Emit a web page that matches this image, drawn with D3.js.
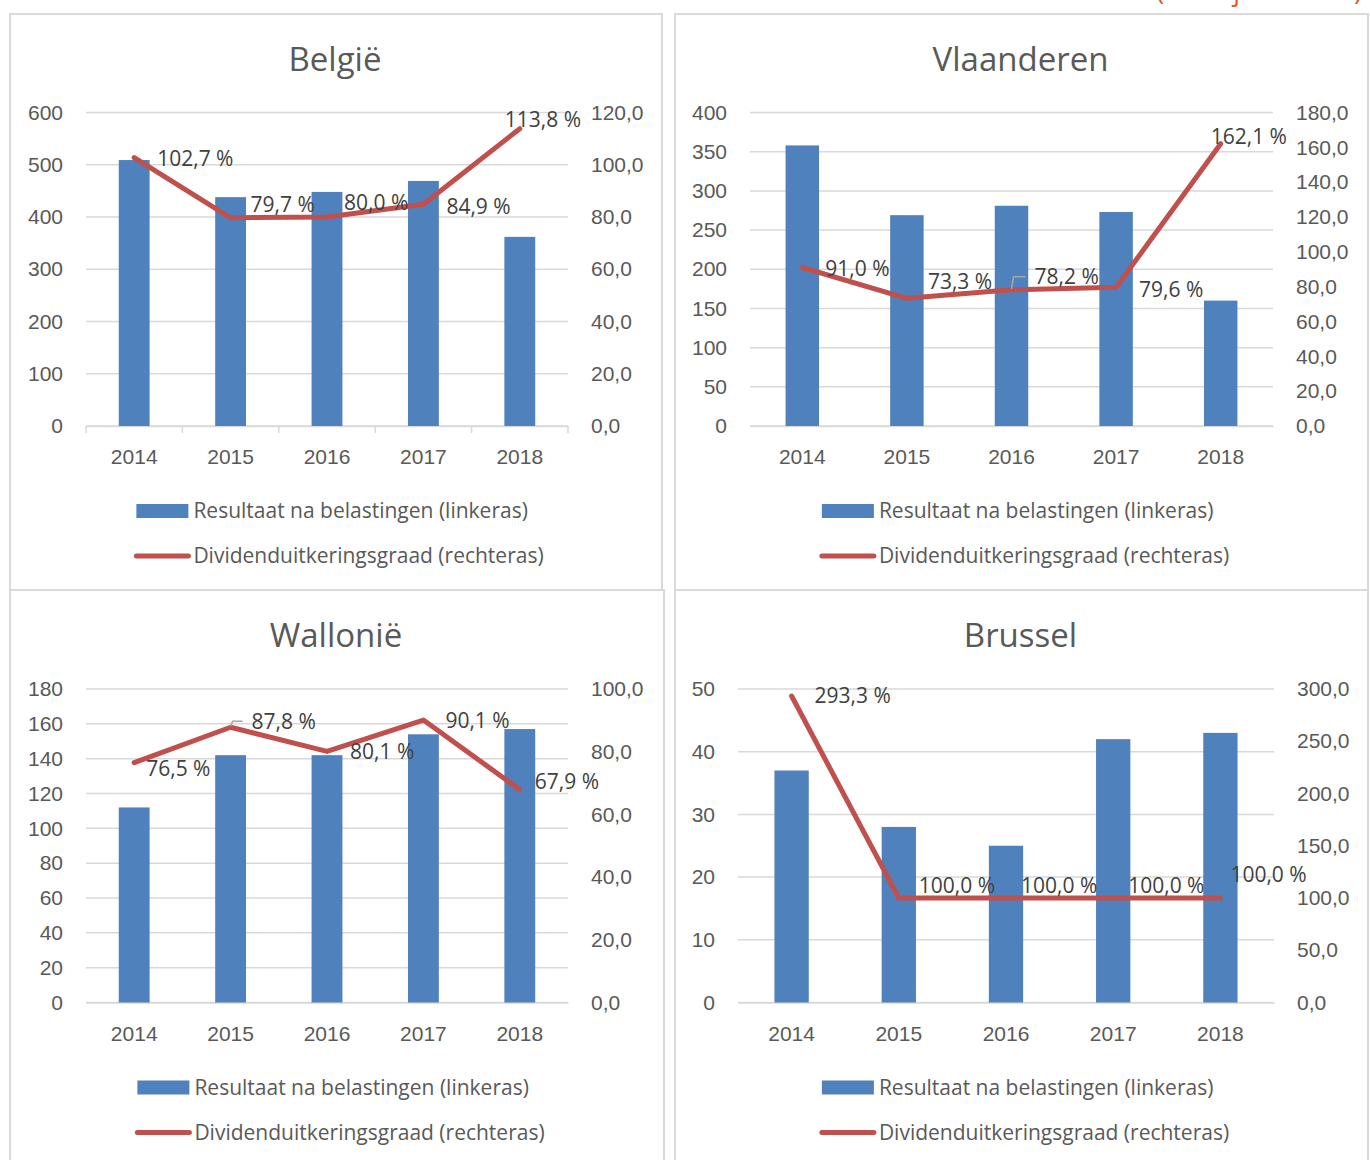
<!DOCTYPE html>
<html>
<head>
<meta charset="utf-8">
<script src="https://cdn.jsdelivr.net/npm/d3@7"></script>
<style>
  body { margin: 0; background: #fff; }
  svg { display: block; font-family: "Open Sans", sans-serif; }
</style>
</head>
<body>
<svg id="chart"></svg>
<script>
const size = {w: 1370, h: 1160};
const svg = d3.select('#chart').attr('width', size.w).attr('height', size.h);

// data
const years = ['2014', '2015', '2016', '2017', '2018'];
const belgieResultaat = [509, 438, 448, 469, 362];
const belgieGraad = [102.7, 79.7, 80.0, 84.9, 113.8];
const vlaanderenResultaat = [358, 269, 281, 273, 160];
const vlaanderenGraad = [91.0, 73.3, 78.2, 79.6, 162.1];
const walloniëResultaat = [112, 142, 142, 154, 157];
const walloniëGraad = [76.5, 87.8, 80.1, 90.1, 67.9];
const brusselResultaat = [37, 28, 25, 42, 43];
const brusselGraad = [293.3, 100.0, 100.0, 100.0, 100.0];

const legendLabels = ['Resultaat na belastingen (linkeras)', 'Dividenduitkeringsgraad (rechteras)'];
const noteText = '(in miljoen euro)';

const colors = {bar: '#4f81bd', line: '#c0504d', grid: '#d9d9d9', text: '#595959', label: '#404040'};
const nl = d3.formatLocale({decimal: ',', thousands: '.', grouping: [3], currency: ['€', '']});
const fmt1 = nl.format('.1f');

// layout per panel (positions only, values come from the arrays above)
const panels = [
    {title: 'België', res: belgieResultaat, graad: belgieGraad,
     left: [0, 600], leftStep: 100, right: [0, 120], rightStep: 20,
     box: [10, 14, 652, 576], plot: [86, 568, 112.5, 426], titleY: 71, axisTicks: true,
     nudge: [[23, 1], [20, -13], [17, -14], [23, 2], [-15, -9]], leader: []},
    {title: 'Vlaanderen', res: vlaanderenResultaat, graad: vlaanderenGraad,
     left: [0, 400], leftStep: 50, right: [0, 180], rightStep: 20,
     box: [675, 14, 693, 576], plot: [750, 1273, 112.5, 426], titleY: 71, axisTicks: false,
     nudge: [[23, 1], [21, -17], [23, -13], [23, 2], [-10, -7]], leader: [2]},
    {title: 'Wallonië', res: walloniëResultaat, graad: walloniëGraad,
     left: [0, 180], leftStep: 20, right: [0, 100], rightStep: 20,
     box: [10, 590, 654, 600], plot: [86, 568, 689, 1002.5], titleY: 647, axisTicks: false,
     nudge: [[12, 6], [21, -6], [23, 0], [22, 1], [15, -8]], leader: [1]},
    {title: 'Brussel', res: brusselResultaat, graad: brusselGraad,
     left: [0, 50], leftStep: 10, right: [0, 300], rightStep: 50,
     box: [675, 590, 693, 600], plot: [738, 1274, 689, 1002.5], titleY: 647, axisTicks: false,
     nudge: [[23, 0], [20, -12], [15, -12], [15, -12], [10, -23]], leader: []}
];

// red note at the very top, cut off by the page edge
svg.append('defs').append('clipPath').attr('id', 'topclip')
    .append('rect').attr('x', 0).attr('y', 0).attr('width', size.w).attr('height', 7);
svg.append('text')
    .attr('clip-path', 'url(#topclip)')
    .attr('x', 1362).attr('y', 0)
    .attr('text-anchor', 'end')
    .attr('font-size', 27)
    .attr('fill', '#e2542d')
    .text(noteText);

panels.forEach(p => drawPanel(p));

function drawPanel(p) {
    const g = svg.append('g');
    const [bx, by, bw, bh] = p.box;
    const [x0, x1, yTop, yBot] = p.plot;

    g.append('rect')
        .attr('x', bx).attr('y', by).attr('width', bw).attr('height', bh)
        .attr('fill', 'none').attr('stroke', colors.grid).attr('stroke-width', 2);

    g.append('text')
        .attr('x', bx + bw / 2 - 1).attr('y', p.titleY)
        .attr('text-anchor', 'middle')
        .attr('font-size', 33)
        .attr('fill', colors.text)
        .text(p.title);

    const x = d3.scaleBand().domain(years).range([x0, x1]).paddingInner(0.68).paddingOuter(0.34);
    const yL = d3.scaleLinear().domain(p.left).range([yBot, yTop]);
    const yR = d3.scaleLinear().domain(p.right).range([yBot, yTop]);
    const leftTicks = d3.range(p.left[0], p.left[1] + 0.001, p.leftStep);
    const rightTicks = d3.range(p.right[0], p.right[1] + 0.001, p.rightStep);

    // gridlines
    g.append('g').selectAll('line')
        .data(leftTicks)
        .join('line')
        .attr('x1', x0).attr('x2', x1)
        .attr('y1', d => yL(d)).attr('y2', d => yL(d))
        .attr('stroke', colors.grid).attr('stroke-width', 1.5);

    // left axis
    const axL = g.append('g')
        .attr('transform', `translate(${x0 - 23},0)`)
        .call(d3.axisLeft(yL).tickValues(leftTicks).tickSize(0).tickPadding(0).tickFormat(d3.format('d')));
    axL.select('.domain').remove();
    axL.selectAll('text').attr('font-size', 21).attr('fill', colors.text).attr('font-family', null);

    // right axis
    const axR = g.append('g')
        .attr('transform', `translate(${x1 + 23},0)`)
        .call(d3.axisRight(yR).tickValues(rightTicks).tickSize(0).tickPadding(0).tickFormat(fmt1));
    axR.select('.domain').remove();
    axR.selectAll('text').attr('font-size', 21).attr('fill', colors.text).attr('font-family', null);

    // bottom axis
    const axB = g.append('g')
        .attr('transform', `translate(0,${yBot})`)
        .call(d3.axisBottom(x).tickSize(0).tickPadding(0));
    axB.select('.domain').attr('stroke', colors.grid).attr('stroke-width', 1.5);
    axB.selectAll('text')
        .attr('font-size', 21).attr('fill', colors.text).attr('font-family', null)
        .attr('dy', null).attr('y', 38);
    if (p.axisTicks) {
        const bounds = d3.range(years.length + 1).map(i => x0 + i * x.step());
        axB.append('g').selectAll('line')
            .data(bounds)
            .join('line')
            .attr('x1', d => d).attr('x2', d => d)
            .attr('y1', 0).attr('y2', 7)
            .attr('stroke', colors.grid).attr('stroke-width', 1.5);
    }

    // bars
    g.append('g').selectAll('rect')
        .data(p.res)
        .join('rect')
        .attr('x', (d, i) => x(years[i]))
        .attr('y', d => yL(d))
        .attr('width', x.bandwidth())
        .attr('height', d => yBot - yL(d))
        .attr('fill', colors.bar);

    // line
    const cx = i => x(years[i]) + x.bandwidth() / 2;
    const line = d3.line().x((d, i) => cx(i)).y(d => yR(d));
    g.append('path')
        .datum(p.graad)
        .attr('d', line)
        .attr('fill', 'none')
        .attr('stroke', colors.line)
        .attr('stroke-width', 5)
        .attr('stroke-linejoin', 'round')
        .attr('stroke-linecap', 'round');

    // data labels
    g.append('g').selectAll('text')
        .data(p.graad)
        .join('text')
        .attr('x', (d, i) => cx(i) + p.nudge[i][0])
        .attr('y', (d, i) => yR(d) + p.nudge[i][1])
        .attr('dy', '0.35em')
        .attr('font-size', 21)
        .attr('fill', colors.label)
        .text(d => fmt1(d) + ' %');

    // leader lines
    g.append('g').selectAll('path')
        .data(p.leader)
        .join('path')
        .attr('d', i => {
            const px = cx(i), py = yR(p.graad[i]);
            const ly = py + p.nudge[i][1];
            const lx = px + p.nudge[i][0];
            return `M${px},${py - 1}L${px + 2},${ly}L${lx - 9},${ly}`;
        })
        .attr('fill', 'none').attr('stroke', '#a6a6a6').attr('stroke-width', 1.5);

    // legend
    const legY = [yBot + 85, yBot + 130];
    const leg = g.append('g');
    const t = leg.selectAll('text')
        .data(legendLabels)
        .join('text')
        .attr('y', (d, i) => legY[i])
        .attr('dy', '0.35em')
        .attr('font-size', 21)
        .attr('fill', colors.text)
        .text(d => d);
    const maxW = d3.max(t.nodes(), n => n.getComputedTextLength());
    const startX = bx + bw / 2 - (59 + maxW) / 2 + 3;
    t.attr('x', startX + 59);
    leg.append('rect')
        .attr('x', startX + 2).attr('y', legY[0] - 7)
        .attr('width', 52).attr('height', 14)
        .attr('fill', colors.bar);
    leg.append('line')
        .attr('x1', startX + 2).attr('x2', startX + 54)
        .attr('y1', legY[1]).attr('y2', legY[1])
        .attr('stroke', colors.line).attr('stroke-width', 5)
        .attr('stroke-linecap', 'round');
}
</script>
</body>
</html>
